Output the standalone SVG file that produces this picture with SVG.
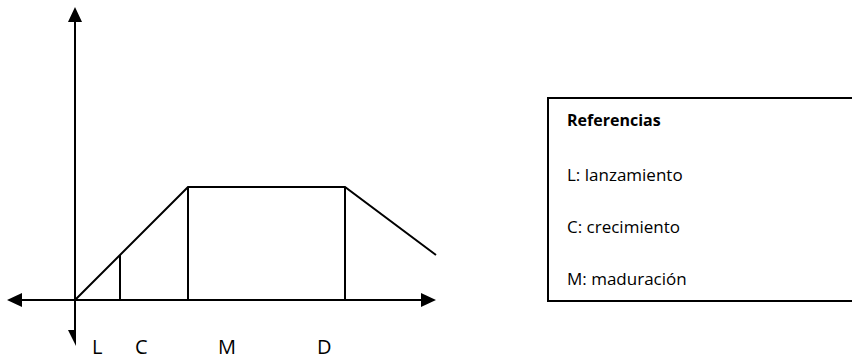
<svg xmlns="http://www.w3.org/2000/svg" width="852" height="360" viewBox="0 0 852 360">
  <style>
    .ln { stroke: #000; stroke-width: 2; fill: none; stroke-linecap: butt; }
    .head { fill: #000; stroke: none; }
    .lbl { font-family: "Open Sans", "Liberation Sans", sans-serif; font-size: 20px; fill: #000; }
    .ref { font-family: "Open Sans", "Liberation Sans", sans-serif; font-size: 17px; fill: #000; }
    .ref-title { font-weight: bold; font-size: 16px; }
  </style>
  <rect width="852" height="360" fill="#fff"/>

  <!-- axes -->
  <g id="axes">
    <line class="ln" x1="75" y1="20" x2="75" y2="335"/>
    <polygon class="head" points="75,7 68,22 82,22"/>
    <polygon class="head" points="68,330 76,330 76,346"/>
    <line class="ln" x1="20" y1="300" x2="422" y2="300"/>
    <polygon class="head" points="7,300 22,293 22,307"/>
    <polygon class="head" points="436,300 421,293 421,307"/>
  </g>

  <!-- life-cycle curve and phase dividers -->
  <g id="curve">
    <polyline class="ln" points="75,300 188,187 345,187 436,255"/>
    <line class="ln" x1="120" y1="255" x2="120" y2="300"/>
    <line class="ln" x1="188" y1="187" x2="188" y2="300"/>
    <line class="ln" x1="345" y1="187" x2="345" y2="300"/>
  </g>

  <!-- phase labels -->
  <g id="phase-labels">
    <text class="lbl" x="92" y="354">L</text>
    <text class="lbl" x="135" y="354">C</text>
    <text class="lbl" x="218" y="354">M</text>
    <text class="lbl" x="317" y="354">D</text>
  </g>

  <!-- legend -->
  <g id="legend">
    <rect x="548" y="98" width="320" height="203" fill="#fff" stroke="#000" stroke-width="2"/>
    <text class="ref ref-title" x="567" y="126">Referencias</text>
    <text class="ref" x="567" y="181">L: lanzamiento</text>
    <text class="ref" x="567" y="233">C: crecimiento</text>
    <text class="ref" x="567" y="285">M: maduración</text>
  </g>
</svg>
